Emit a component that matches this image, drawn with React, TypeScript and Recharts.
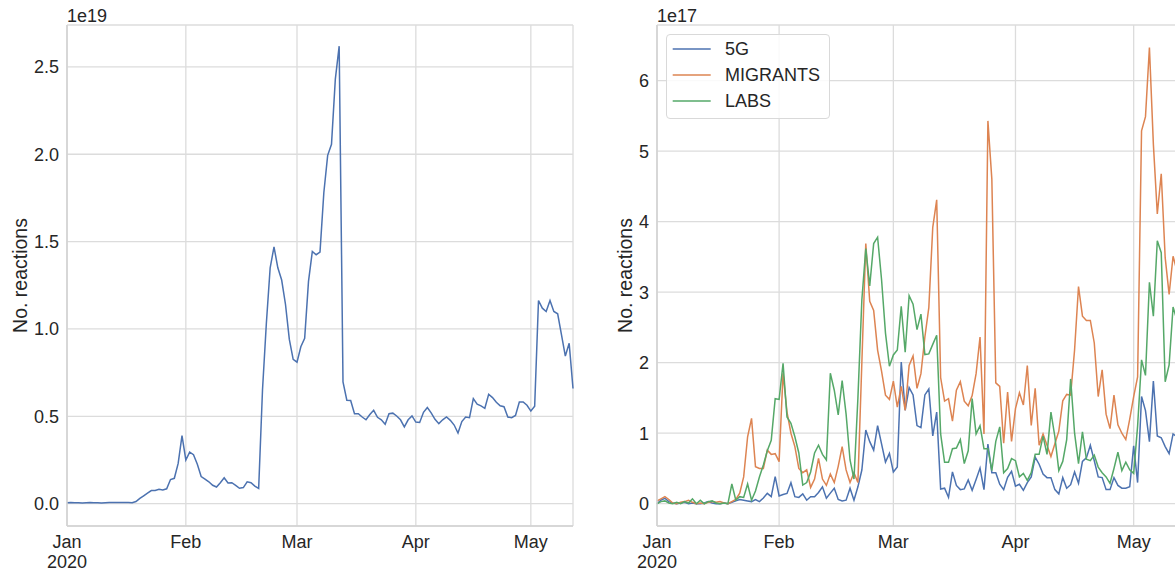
import React from 'react'
import { CartesianGrid, Legend, Line, LineChart, XAxis, YAxis } from 'recharts'

// one value per day, 1 Jan 2020 (index 0) .. 12 May 2020 (index 132)
// left panel in units of 1e19
const allReactions = [
  0.005, 0.006, 0.005, 0.005, 0.004, 0.005, 0.006, 0.005, 0.005, 0.004,
  0.005, 0.006, 0.007, 0.006, 0.006, 0.007, 0.006, 0.005, 0.012, 0.03,
  0.045, 0.06, 0.075, 0.075, 0.082, 0.078, 0.085, 0.138, 0.145, 0.23,
  0.389, 0.25, 0.295, 0.28, 0.225, 0.155, 0.14, 0.125, 0.105, 0.095,
  0.12, 0.148, 0.118, 0.12, 0.105, 0.088, 0.092, 0.125, 0.12, 0.1,
  0.087, 0.65, 1.03, 1.35, 1.47, 1.35, 1.28, 1.14, 0.94, 0.826,
  0.81, 0.898, 0.946, 1.272, 1.444, 1.425, 1.44, 1.78, 1.994, 2.057,
  2.43, 2.619, 0.697, 0.592, 0.59, 0.515, 0.515, 0.496, 0.48, 0.51,
  0.534, 0.494, 0.48, 0.454, 0.515, 0.518, 0.502, 0.48, 0.439, 0.48,
  0.502, 0.467, 0.465, 0.523, 0.55, 0.52, 0.483, 0.458, 0.48, 0.496,
  0.477, 0.45, 0.404, 0.47, 0.496, 0.492, 0.601, 0.57, 0.56, 0.546,
  0.626, 0.607, 0.58, 0.56, 0.555, 0.496, 0.492, 0.505, 0.582, 0.582,
  0.563, 0.53, 0.558, 1.163, 1.119, 1.1, 1.163, 1.1, 1.087, 0.966,
  0.845, 0.918, 0.659,
]

// right panel in units of 1e17
const fiveG = [
  0.0, 0.05, 0.077, 0.03, 0.01, 0.0, 0.01, 0.02, 0.0, 0.01,
  0.0, 0.0, 0.01, 0.03, 0.01, 0.0, 0.0, 0.01, 0.0, 0.02,
  0.04, 0.06, 0.05, 0.04, 0.03, 0.06, 0.03, 0.08, 0.147, 0.1,
  0.383, 0.11, 0.13, 0.145, 0.298, 0.1, 0.09, 0.14, 0.05, 0.1,
  0.1, 0.16, 0.24, 0.077, 0.15, 0.22, 0.06, 0.04, 0.05, 0.22,
  0.05, 0.24, 0.478, 1.045, 0.88, 0.76, 1.106, 0.85, 0.59, 0.713,
  0.45, 0.52, 2.01, 1.325, 1.648, 1.543, 1.108, 1.08, 1.543, 1.627,
  0.962, 1.3, 0.208, 0.22, 0.09, 0.452, 0.26, 0.2, 0.21, 0.338,
  0.19, 0.345, 0.505, 0.2, 0.847, 0.44, 0.44, 0.276, 0.2, 0.375,
  0.46, 0.25, 0.276, 0.19, 0.3, 0.38, 0.66, 0.56, 0.42, 0.37,
  0.37, 0.2, 0.14, 0.37, 0.22, 0.27, 0.45, 0.29, 0.6, 0.65,
  0.83, 0.61, 0.38, 0.37, 0.2, 0.2, 0.37, 0.26, 0.22, 0.22,
  0.24, 0.82, 0.3, 1.52, 1.32, 0.88, 1.74, 0.96, 0.935, 0.81,
  0.71, 0.99, 0.95,
]

const migrants = [
  0.04, 0.07, 0.1, 0.06, 0.01, 0.0, 0.02, 0.03, 0.05, 0.02,
  0.0, 0.01, 0.0, 0.02, 0.03, 0.02, 0.03, 0.01, 0.0, 0.03,
  0.06, 0.15, 0.38, 0.95, 1.21, 0.525, 0.5, 0.5, 0.76, 0.7,
  0.71, 0.596, 1.85, 1.3, 1.0, 0.81, 0.5, 0.44, 0.48, 0.232,
  0.35, 0.644, 0.35, 0.26, 0.42, 0.3, 0.53, 0.81, 0.48, 0.3,
  0.44, 0.3, 2.0, 3.69, 2.87, 2.74, 2.18, 1.88, 1.54, 1.48,
  1.74, 1.37, 1.664, 1.325, 1.96, 2.095, 1.637, 1.845, 2.365, 2.78,
  3.92, 4.31, 1.79, 1.455, 1.49, 1.17, 1.61, 1.73, 1.455, 1.39,
  1.533, 1.845, 2.365, 0.99, 5.43, 4.6, 1.715, 1.664, 0.858, 1.585,
  0.884, 1.35, 1.573, 1.4, 1.96, 1.11, 1.637, 0.83, 0.99, 0.83,
  0.67, 0.85, 1.03, 1.46, 1.55, 1.54, 2.18, 3.08, 2.66, 2.6,
  2.6, 2.28, 1.52, 1.9, 1.27, 1.065, 1.54, 1.12, 1.0, 0.91,
  1.2, 1.52, 1.8, 5.29, 5.49, 6.47, 5.1, 4.11, 4.68, 3.49,
  2.97, 3.51, 3.3,
]

const labs = [
  0.0, 0.03, 0.04, 0.01, 0.0, 0.02, 0.0, 0.03, 0.01, 0.07,
  0.0, 0.05, 0.0, 0.03, 0.04, 0.01, 0.0, 0.01, 0.0, 0.28,
  0.05, 0.1, 0.09, 0.28, 0.05, 0.18, 0.38, 0.55, 0.75, 0.9,
  1.49, 1.48, 1.99, 1.23, 1.14, 0.95, 0.72, 0.265, 0.3, 0.45,
  0.72, 0.83, 0.7, 0.62, 1.85, 1.61, 1.26, 1.745, 1.27, 0.62,
  0.35, 1.5, 2.89, 3.62, 3.09, 3.69, 3.78, 3.18, 2.42, 1.95,
  2.11, 2.18, 2.8, 2.15, 2.95, 2.83, 2.47, 2.69, 2.115, 2.125,
  2.26, 2.39, 0.99, 0.587, 0.587, 0.78, 0.79, 0.91, 0.57, 0.75,
  1.49, 0.99, 1.108, 0.78, 0.78, 0.468, 0.884, 1.09, 0.44, 0.5,
  0.64, 0.61, 0.38, 0.43, 0.33, 0.44, 0.7, 0.7, 0.96, 0.7,
  1.3, 0.95, 0.47, 0.6, 0.91, 1.77, 1.0, 0.57, 1.02, 0.63,
  0.61, 0.69, 0.52, 0.44, 0.38, 0.29, 0.5, 0.73, 0.47, 0.59,
  0.48, 0.43, 1.1, 2.04, 1.82, 3.14, 2.66, 3.73, 3.56, 1.73,
  1.97, 2.79, 2.6,
]

const seriesNames = ['5G', 'MIGRANTS', 'LABS']
const monthTicks = [0, 31, 60, 91, 121]
const monthLabels = ['Jan', 'Feb', 'Mar', 'Apr', 'May']
const yearLabel = '2020'
const leftYTicks = [0, 0.5, 1, 1.5, 2, 2.5]
const rightYTicks = [0, 1, 2, 3, 4, 5, 6]

const ink = '#262626'
const font = '"Liberation Sans", Arial, sans-serif'
const gridColor = '#dcdcdc'
const frameLine = { stroke: '#d2d2d2', strokeWidth: 1.5 }
const tickStyle = { fill: ink, fontSize: 18, fontFamily: font }
const lastDay = allReactions.length - 1

const leftData = allReactions.map((v, i) => ({ day: i, reactions: v }))
const rightData = fiveG.map((v, i) => ({ day: i, fiveG: v, migrants: migrants[i], labs: labs[i] }))

function MonthTick({ x, y, payload }: any) {
  const i = monthTicks.indexOf(payload.value)
  return (
    <text x={x} y={y} textAnchor="middle" fill={ink} fontSize={18} fontFamily={font}>
      <tspan x={x} dy={14}>{monthLabels[i]}</tspan>
      {i === 0 && <tspan x={x} dy={20}>{yearLabel}</tspan>}
    </text>
  )
}

function AxisTitle({ viewBox, baselineX }: any) {
  const cy = viewBox && viewBox.height ? viewBox.y + viewBox.height / 2 : 275.5
  return (
    <text
      transform={`translate(${baselineX},${cy}) rotate(-90)`}
      textAnchor="middle"
      fill={ink}
      fontSize={19.5}
      fontFamily={font}
    >
      No. reactions
    </text>
  )
}

function LegendBox({ payload }: any) {
  const entries = [...(payload || [])].sort(
    (a: any, b: any) => seriesNames.indexOf(a.value) - seriesNames.indexOf(b.value),
  )
  return (
    <div
      style={{
        width: 164,
        boxSizing: 'border-box',
        border: '1px solid #d9d9d9',
        borderRadius: 4,
        background: 'rgba(255,255,255,0.85)',
        padding: '1px 0 4px 0',
        fontFamily: font,
        fontSize: 18,
        color: ink,
      }}
    >
      {entries.map((entry: any) => (
        <div key={entry.value} style={{ display: 'flex', alignItems: 'center', height: 26 }}>
          <svg width={58} height={26} style={{ display: 'block' }}>
            <line x1={5.7} x2={43.7} y1={13} y2={13} stroke={entry.color} strokeWidth={1.5} />
          </svg>
          <span style={{ lineHeight: '26px' }}>{entry.value}</span>
        </div>
      ))}
    </div>
  )
}

function Multiplier({ left, text }: { left: number; text: string }) {
  return (
    <div
      style={{
        position: 'absolute',
        left,
        top: 7,
        fontFamily: font,
        fontSize: 18,
        lineHeight: '18px',
        color: ink,
      }}
    >
      {text}
    </div>
  )
}

export default function App() {
  return (
    <div
      style={{
        position: 'fixed',
        left: 0,
        top: 0,
        width: 1175,
        height: 574,
        overflow: 'hidden',
        background: '#ffffff',
      }}
    >
      <div style={{ position: 'absolute', left: 0, top: 0 }}>
        <LineChart width={590} height={574} data={leftData} margin={{ top: 25, right: 17, left: 0, bottom: 0 }}>
          <CartesianGrid stroke={gridColor} strokeWidth={1.3} />
          <XAxis
            dataKey="day"
            type="number"
            domain={[0, lastDay]}
            ticks={monthTicks}
            interval={0}
            height={48}
            tickLine={false}
            axisLine={frameLine}
            tick={<MonthTick />}
          />
          <XAxis xAxisId="frame" orientation="top" type="number" dataKey="day" domain={[0, lastDay]} height={0} tick={false} tickLine={false} axisLine={frameLine} />
          <YAxis
            type="number"
            domain={[-0.128, 2.74]}
            allowDataOverflow
            ticks={leftYTicks}
            interval={0}
            width={67}
            tickLine={false}
            axisLine={frameLine}
            tick={tickStyle}
            tickFormatter={(v: number) => v.toFixed(1)}
            label={<AxisTitle baselineX={26.5} />}
          />
          <YAxis yAxisId="frame" orientation="right" type="number" domain={[0, 1]} width={0} tick={false} tickLine={false} axisLine={frameLine} />
          <Line
            type="linear"
            dataKey="reactions"
            stroke="#4c72b0"
            strokeWidth={1.5}
            dot={false}
            activeDot={false}
            isAnimationActive={false}
          />
        </LineChart>
        <Multiplier left={67} text="1e19" />
      </div>

      <div style={{ position: 'absolute', left: 590, top: 0 }}>
        <LineChart width={600} height={574} data={rightData} margin={{ top: 25, right: 13, left: 0, bottom: 0 }}>
          <CartesianGrid stroke={gridColor} strokeWidth={1.3} />
          <XAxis
            dataKey="day"
            type="number"
            domain={[0, lastDay]}
            ticks={monthTicks}
            interval={0}
            height={48}
            tickLine={false}
            axisLine={frameLine}
            tick={<MonthTick />}
          />
          <XAxis xAxisId="frame" orientation="top" type="number" dataKey="day" domain={[0, lastDay]} height={0} tick={false} tickLine={false} axisLine={frameLine} />
          <YAxis
            type="number"
            domain={[-0.316, 6.79]}
            allowDataOverflow
            ticks={rightYTicks}
            interval={0}
            width={67}
            tickLine={false}
            axisLine={frameLine}
            tick={tickStyle}
            label={<AxisTitle baselineX={41.7} />}
          />
          <YAxis yAxisId="frame" orientation="right" type="number" domain={[0, 1]} width={0} tick={false} tickLine={false} axisLine={frameLine} />
          <Legend
            layout="vertical"
            align="center"
            verticalAlign="middle"
            wrapperStyle={{ left: 76, top: 34, width: 164, height: 84 }}
            content={<LegendBox />}
          />
          <Line type="linear" dataKey="fiveG" name={seriesNames[0]} stroke="#4c72b0" strokeWidth={1.5} dot={false} activeDot={false} isAnimationActive={false} />
          <Line type="linear" dataKey="migrants" name={seriesNames[1]} stroke="#dd8452" strokeWidth={1.5} dot={false} activeDot={false} isAnimationActive={false} />
          <Line type="linear" dataKey="labs" name={seriesNames[2]} stroke="#55a868" strokeWidth={1.5} dot={false} activeDot={false} isAnimationActive={false} />
        </LineChart>
        <Multiplier left={67} text="1e17" />
      </div>
    </div>
  )
}
